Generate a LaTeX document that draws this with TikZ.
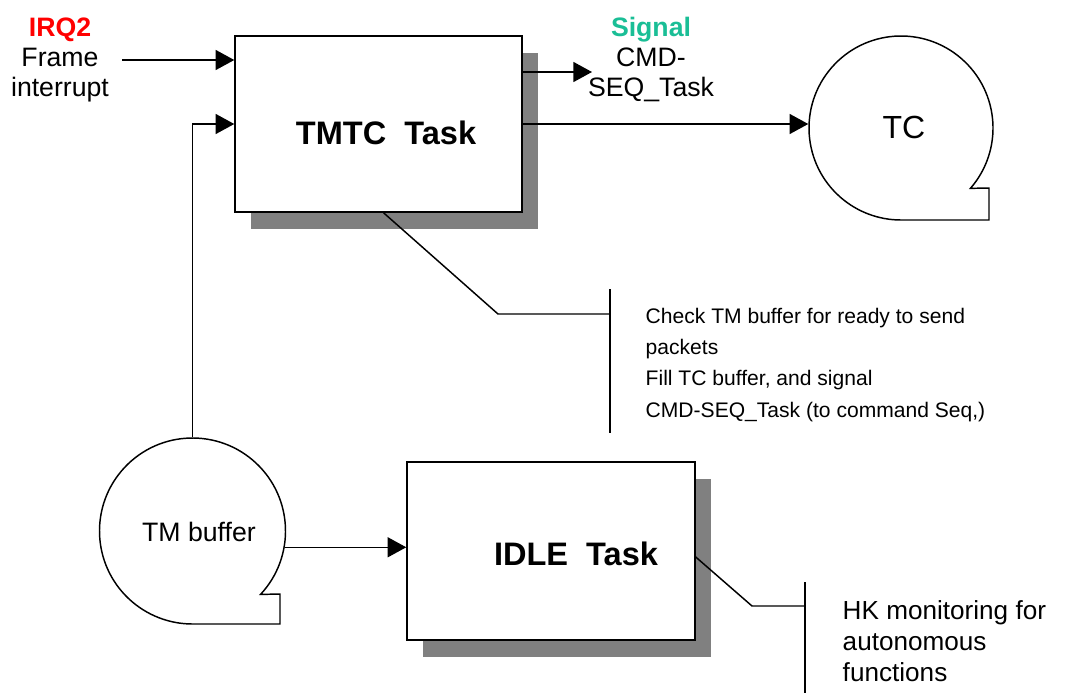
\documentclass[tikz,border=0pt]{standalone}
\usepackage{fontspec}
\setmainfont{Liberation Sans}
\usetikzlibrary{arrows.meta,shadows}
\definecolor{sigteal}{RGB}{26,190,150}
\definecolor{shadowgray}{RGB}{128,128,128}
\begin{document}
\begin{tikzpicture}[x=0.75pt,y=-0.75pt,line width=1.1pt,
  every node/.style={font=\fontsize{20}{22.5}\selectfont},
  taskbox/.style={draw,fill=white,drop shadow={shadow xshift=12pt,shadow yshift=-12.75pt,fill=shadowgray,opacity=1}},
  tasklbl/.style={font=\fontsize{24.4}{27}\selectfont\bfseries},
  store/.style={circle,inner sep=0pt},
  arr/.style={-{Triangle[length=14pt,width=15pt]}}]
\useasboundingbox (0,0) rectangle (1082,693);
% tasks
\node[taskbox,minimum width=215.25pt,minimum height=132pt] (tmtc) at (378.5,124) {};
\node[tasklbl] (tmtclbl) at (386,133) {TMTC\ \ Task};
\node[taskbox,minimum width=216pt,minimum height=133.5pt] (idle) at (551,551) {};
\node[tasklbl] (idlelbl) at (576,554) {IDLE\ \ Task};
% stores
\node[store,minimum size=138pt] (tc) at (901,128) {};
\draw (tc.center) ++(41:92) arc[start angle=41,end angle=-270,radius=92] -- ++(88,0) -- ++(0,-32) -- cycle;
\node[font=\fontsize{24}{26}\selectfont] (tclbl) at (904,127) {TC};
\node[store,minimum size=139.5pt] (tmb) at (192.5,531) {};
\draw (tmb.center) ++(43:93) arc[start angle=43,end angle=-270,radius=93] -- ++(87.5,0) -- ++(0,-30) -- cycle;
\node (tmblbl) at (199,532) {TM buffer};
% inputs and outputs
\node[anchor=base,align=center,inner sep=0pt] (irq) at (60,96) {{\bfseries\color{red}IRQ2}\\Frame\\interrupt};
\node[anchor=base,align=center,inner sep=0pt] (sig) at (651,96) {{\bfseries\color{sigteal}Signal}\\CMD-\\SEQ\_Task};
\coordinate (irqin) at (122,60);
\coordinate (sigout) at (592,72);
\draw[arr] (irqin) -- (irqin -| tmtc.west);
\draw[arr] (tmb.north) |- (tmtc.west);
\draw[arr] (sigout -| tmtc.east) -- (sigout);
\draw[arr] (tmtc.east) -- (tmtc.east -| tc.west);
\draw[arr] (tmb.-10) -- (tmb.-10 -| idle.west);
% notes
\coordinate (bend1) at (498,314); \coordinate (bar1) at (610,314);
\coordinate (bar1top) at (610,289); \coordinate (bar1bot) at (610,433);
\draw ([xshift=3.75pt]tmtc.south) -- (bend1) -- (bar1);
\draw (bar1top) -- (bar1bot);
\node[anchor=base west,align=left,inner sep=0pt,font=\fontsize{15.8}{23.5}\selectfont] (note1) at (645,417) {Check TM buffer for ready to send\\packets\\Fill TC buffer, and signal\\CMD-SEQ\_Task (to command Seq,)};
\coordinate (bend2) at (752,606); \coordinate (bar2) at (805,606);
\coordinate (bar2top) at (805,582); \coordinate (bar2bot) at (805,693);
\draw ([yshift=-4.5pt]idle.east) -- (bend2) -- (bar2);
\draw (bar2top) -- (bar2bot);
\node[anchor=base west,align=left,inner sep=0pt,font=\fontsize{19.6}{23}\selectfont] (note2) at (842,681) {HK monitoring for\\autonomous\\functions};
\end{tikzpicture}
\end{document}
